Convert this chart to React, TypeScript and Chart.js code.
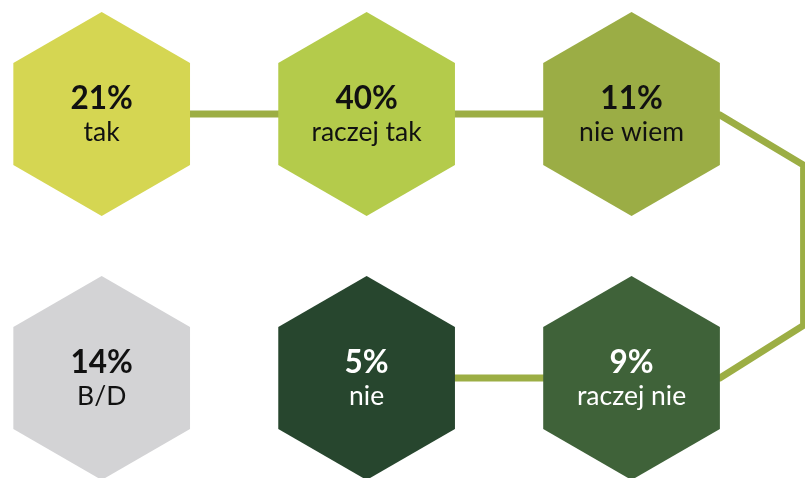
import React, { useEffect, useRef } from "react";
import { Chart, registerables } from "chart.js";

Chart.register(...registerables);

const categories = ["tak", "raczej tak", "nie wiem", "raczej nie", "nie", "B/D"];
const values = [21, 40, 11, 9, 5, 14];
const fillColors = ["#d5d652", "#b4cb4b", "#9bad45", "#3f6239", "#27462e", "#d3d3d5"];
const textColors = ["#111111", "#111111", "#111111", "#ffffff", "#ffffff", "#111111"];
const connectorColor = "#9cae44";
// the snake path links the first five answers; B/D stands apart
const linkedCount = 5;

function gridPos(i: number) {
  const row = Math.floor(i / 3);
  const col = row === 0 ? i % 3 : 2 - (i % 3);
  return { x: col, y: row };
}

const hexPlugin = {
  id: "hexPlugin",
  beforeDatasetsDraw(chart: any) {
    const ctx = chart.ctx;
    const meta = chart.getDatasetMeta(0);
    const pts = meta.data.map((p: any) => ({ x: p.x, y: p.y }));
    const ys = chart.scales.y;
    const r = Math.abs(ys.getPixelForValue(1) - ys.getPixelForValue(0)) * 0.3864;
    const hw = (r * Math.sqrt(3)) / 2;
    const right = chart.width - 1.5;
    const a = pts[2];
    const b = pts[3];
    ctx.save();
    ctx.strokeStyle = connectorColor;
    ctx.lineWidth = 6.8;
    ctx.lineCap = "round";
    ctx.lineJoin = "miter";
    ctx.beginPath();
    ctx.moveTo(pts[0].x, pts[0].y);
    ctx.lineTo(pts[1].x, pts[1].y);
    ctx.lineTo(a.x, a.y);
    ctx.lineTo(a.x + hw, a.y + 1);
    const dx = right - (a.x + hw);
    ctx.lineTo(right, a.y + 1 + dx * 0.6);
    ctx.lineTo(right, b.y - dx * 0.63);
    ctx.lineTo(b.x + hw, b.y);
    ctx.lineTo(b.x, b.y);
    for (let i = 4; i < linkedCount; i++) ctx.lineTo(pts[i].x, pts[i].y);
    ctx.stroke();
    ctx.restore();
  },
  afterDatasetsDraw(chart: any) {
    const ctx = chart.ctx;
    const meta = chart.getDatasetMeta(0);
    const ys = chart.scales.y;
    const r = Math.abs(ys.getPixelForValue(1) - ys.getPixelForValue(0)) * 0.3864;
    ctx.save();
    meta.data.forEach((p: any, i: number) => {
      const cx = p.x;
      const cy = p.y;
      ctx.beginPath();
      for (let k = 0; k < 6; k++) {
        const ang = -Math.PI / 2 + (k * Math.PI) / 3;
        const px = cx + r * Math.cos(ang);
        const py = cy + r * Math.sin(ang);
        if (k === 0) ctx.moveTo(px, py);
        else ctx.lineTo(px, py);
      }
      ctx.closePath();
      ctx.fillStyle = fillColors[i];
      ctx.fill();
      ctx.fillStyle = textColors[i];
      ctx.textAlign = "center";
      ctx.textBaseline = "alphabetic";
      ctx.font = "bold 31.5px Lato";
      ctx.fillText(values[i] + "%", cx, cy - 5);
      ctx.font = "26.5px Lato";
      ctx.fillText(categories[i], cx, cy + 27.5);
    });
    ctx.restore();
  },
};

export default function App() {
  const ref = useRef<HTMLCanvasElement>(null);
  useEffect(() => {
    if (!ref.current) return;
    const chart = new Chart(ref.current, {
      type: "scatter",
      data: {
        datasets: [
          {
            label: "odpowiedzi",
            data: values.map((v, i) => ({ ...gridPos(i), v })),
            pointRadius: 0,
            pointHoverRadius: 0,
          },
        ],
      },
      options: {
        animation: false,
        responsive: false,
        devicePixelRatio: 1,
        layout: { padding: 0 },
        events: [],
        scales: {
          x: { type: "linear", display: false, min: -0.3838, max: 2.6547 },
          y: { type: "linear", display: false, min: -0.4318, max: 1.3788, reverse: true },
        },
        plugins: { legend: { display: false }, tooltip: { enabled: false } },
      },
      plugins: [hexPlugin],
    });
    return () => chart.destroy();
  }, []);
  return (
    <div style={{ position: "absolute", left: 0, top: 0, width: 805, height: 478, background: "#ffffff" }}>
      <canvas ref={ref} width={805} height={478} style={{ display: "block", width: 805, height: 478 }} />
    </div>
  );
}
